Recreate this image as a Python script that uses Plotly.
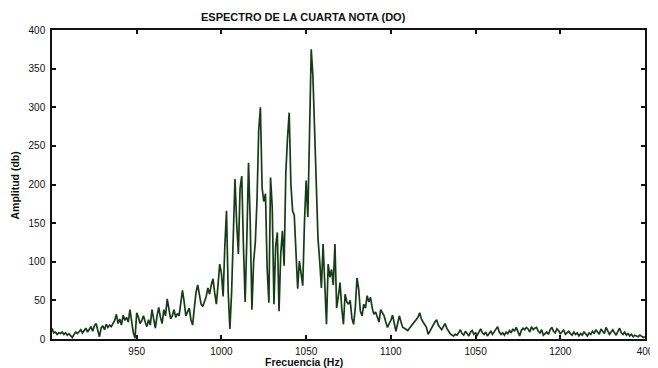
import plotly.graph_objects as go

FREQ_START = 900
FREQ_STEP = 1

amplitude = [
    14, 8, 9, 6, 8, 7, 9, 6, 8, 5,            # 900-909
    7, 4, 2, 6, 9, 7, 10, 12, 8, 11,          # 910-919
    14, 9, 13, 16, 10, 17, 20, 12, 3, 14,     # 920-929
    17, 12, 19, 15, 18, 16, 20, 24, 32, 20,   # 930-939
    26, 18, 31, 24, 28, 22, 38, 25, 8, 1,     # 940-949
    34, 28, 20, 24, 30, 22, 16, 25, 18, 38,   # 950-959
    28, 14, 30, 41, 28, 20, 38, 30, 52, 40,   # 960-969
    26, 30, 38, 28, 33, 30, 45, 63, 48, 30,   # 970-979
    35, 40, 25, 18, 40, 60, 70, 55, 45, 42,   # 980-989
    48, 55, 66, 58, 70, 78, 60, 45, 70, 97,   # 990-999
    85, 55, 120, 166, 60, 13, 60, 130, 207, 150,   # 1000-1009
    110, 195, 211, 120, 48, 130, 228, 150, 38, 100,  # 1010-1019
    125, 180, 270, 300, 196, 178, 188, 90, 47, 209,  # 1020-1029
    170, 45, 120, 138, 36, 110, 140, 95, 215, 260,   # 1030-1039
    293, 200, 166, 160, 120, 65, 101, 85, 69, 150,   # 1040-1049
    205, 158, 270, 375, 340, 260, 180, 130, 101, 66, # 1050-1059
    123, 60, 19, 97, 80, 90, 70, 123, 40, 55,        # 1060-1069
    73, 40, 19, 58, 48, 45, 50, 27, 19, 40,          # 1070-1079
    79, 65, 36, 30, 45, 40, 56, 48, 54, 40,          # 1080-1089
    32, 35, 28, 22, 38, 34, 30, 22, 15, 20,          # 1090-1099
    24, 31, 18, 10, 20, 30, 22, 15, 14, 12,          # 1100-1109
    11, 14, 17, 19, 22, 25, 28, 34, 26, 22,          # 1110-1119
    18, 15, 6, 10, 16, 19, 22, 25, 18, 15,           # 1120-1129
    12, 16, 20, 14, 10, 7, 5, 4, 6, 5,               # 1130-1139
    8, 12, 7, 5, 10, 6, 4, 9, 11, 6,                 # 1140-1149
    8, 5, 10, 13, 8, 6, 9, 4, 7, 10,                 # 1150-1159
    6, 9, 12, 16, 9, 6, 8, 5, 9, 7,                  # 1160-1169
    11, 8, 13, 10, 15, 9, 4, 11, 14, 12,             # 1170-1179
    15, 13, 9, 16, 12, 14, 15, 10, 8, 12,            # 1180-1189
    5, 7, 9, 6, 12, 15, 10, 8, 13, 11,               # 1190-1199
    7, 9, 12, 6, 8, 10, 7, 5, 9, 6,                  # 1200-1209
    8, 4, 7, 5, 9, 6, 4, 8, 6, 10,                   # 1210-1219
    7, 12, 9, 6, 13, 10, 7, 15, 11, 6,               # 1220-1229
    9, 12, 8, 5, 10, 14, 8, 6, 9, 5,                 # 1230-1239
    7, 4, 6, 3, 5, 4, 3, 5, 3, 2,                    # 1240-1249
    3,                                               # 1250
]
frequency = [FREQ_START + FREQ_STEP * i for i in range(len(amplitude))]

x_tick_vals = [950, 1000, 1050, 1100, 1150, 1200, 1250]
x_tick_text = ["950", "1000", "1050", "1100", "1050", "1200", "400"]
y_tick_vals = [0, 50, 100, 150, 200, 250, 300, 350, 400]

title_text = "ESPECTRO DE LA CUARTA NOTA (DO)"
x_label = "Frecuencia (Hz)"
y_label = "Amplitud (db)"

FONT = "Liberation Sans, Arial, sans-serif"

# The page body has an 8px margin; compensate so the plot lands where the reference has it.
OFF = 8
W, H = 658, 368
L, R, T, B = 52 - OFF, 5 + OFF, 30 - OFF, 29 + OFF
pw, ph = W - L - R, H - T - B

fig = go.Figure()
fig.add_trace(go.Scatter(
    x=frequency, y=amplitude, mode="lines",
    line=dict(color="#163c16", width=1.7),
    showlegend=False, hoverinfo="skip",
))

axis_common = dict(
    showgrid=False, zeroline=False,
    showline=True, linecolor="#111111", linewidth=1.5, mirror="ticks",
    ticks="inside", ticklen=4, tickwidth=1.5, tickcolor="#111111",
    tickfont=dict(family=FONT, size=10, color="#111111"),
)

fig.update_layout(
    width=W, height=H,
    margin=dict(l=L, r=R, t=T, b=B),
    paper_bgcolor="white", plot_bgcolor="white",
    xaxis=dict(range=[900, 1250], tickvals=x_tick_vals, ticktext=x_tick_text,
               ticklabelstandoff=2, **axis_common),
    yaxis=dict(range=[0, 400], tickvals=y_tick_vals, ticklabelstandoff=3, **axis_common),
)


def place(text, x_px, y_px, angle=0, size=11):
    # x_px, y_px are screen pixel positions in the reference picture
    return dict(text="<b>" + text + "</b>",
                xref="paper", yref="paper",
                x=(x_px - OFF - L) / pw, y=(H - B - (y_px - OFF)) / ph,
                xanchor="center", yanchor="middle", showarrow=False, textangle=angle,
                font=dict(family=FONT, size=size, color="#111111"))


fig.update_layout(annotations=[
    place(title_text, 307, 17, size=11),
    place(x_label, 307, 362, size=10.5),
    place(y_label, 15, 185, angle=-90, size=10.5),
])

fig.write_html("out.html")
